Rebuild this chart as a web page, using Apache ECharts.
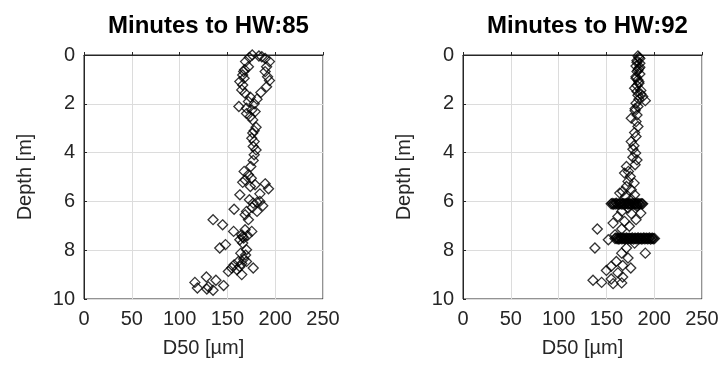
<!DOCTYPE html>
<html>
<head>
<meta charset="utf-8">
<script src="https://cdn.jsdelivr.net/npm/echarts@6/dist/echarts.min.js"></script>
<style>html,body{margin:0;padding:0;background:#fff}#c{width:725px;height:372px}</style>
</head>
<body>
<div id="c"></div>
<script>
const titles = ["Minutes to HW:85", "Minutes to HW:92"];
const xTicks = [0, 50, 100, 150, 200, 250];
const yTicks = [0, 2, 4, 6, 8, 10];

const d50_85 = [176,173,169,172,167,166,167.5,163,166,165,168.5,186,189.5,194,191,189.5,192,194,191,185,181,174,172,162,170,175.5,179,174,176.5,180,176.5,175.5,178,177,180,178,177,174.5,167.5,172,168.5,166,174,179,189.5,193,184,163,173,177,181,187,170,181,157,168.5,172,135,145,156.5,168.5,165,167,175.5,163,166,170,142,148,164,167,161.5,157,154.5,151,165,177,170,128,116,138,146,118.6,128.5,135,130,
178,183,170,168,184,176,178,175,171,166,169,165,163,160];
const depth85 = [0,0.1,0.27,0.48,0.68,0.82,0.95,1.09,1.23,1.43,1.57,0.07,0.14,0.27,0.48,0.68,0.89,1.05,1.3,1.54,1.81,1.73,1.91,2.11,2.18,2.25,2.32,2.52,2.66,2.96,3.2,3.41,3.55,3.75,3.89,4.09,4.32,4.57,4.77,4.91,5.12,5.22,5.39,5.32,5.28,5.48,5.69,5.73,5.93,6.07,6.04,6.18,6.41,6.41,6.32,6.55,6.75,6.75,6.96,7.23,7.16,7.37,7.5,7.23,7.57,7.71,7.98,7.91,7.77,8.12,8.36,8.46,8.6,8.73,8.87,9.0,8.73,8.46,9.1,9.32,9.23,9.45,9.55,9.59,9.64,9.5,
2.0,0.04,2.4,0.6,6.0,6.25,3.1,5.05,7.4,7.45,8.2,8.55,8.68,8.8];

const d50_92 = [183,185,182,185,181,184,182,185,181,183,184,179.5,182,186,188,184,190.7,181,183,180,176,182,181,183,179.5,181,176,178.8,177.7,180.6,177.7,182,180,171,173,169,175,172.6,179,171,167,176,179.5,164,170,176,
155,156.1,157,157.9,159.1,160.2,161,162.1,163.3,164.2,165,166.1,167.2,168.3,169.1,170,171.2,172.3,173.1,174.2,175,176.1,177.2,178.4,179.1,180.2,181.3,182.1,183,184.2,185.1,186.3,187.2,188,
182,186,172.6,166,176,162,157,181,169,174,140.5,166,159,152,
159,160.1,161.2,162.3,163.1,164.2,165.3,166.1,167.2,168.4,169.1,170.3,171.2,172.1,173.3,174.2,175.1,176.3,177.2,178.1,179.3,180.2,181.1,182.3,183.2,184.1,185.3,186.2,187.1,188.3,189.2,190.1,191.3,192.2,193.1,194.3,195.2,196.1,197.3,198.2,199.1,200.3,
179.5,138,171,190.7,166,172.6,160.4,155,167,175.5,150,162,167,155,136,145,157,166,
184,182,185,183,181,184,182,186,183,180];
const depth92 = [0.04,0.14,0.23,0.34,0.45,0.55,0.68,0.78,0.89,1.02,1.16,1.36,1.5,1.6,1.7,1.81,1.87,1.98,2.11,2.28,2.59,2.46,2.73,2.93,3.18,3.34,3.55,3.72,3.86,4.02,4.19,4.3,4.5,4.57,4.77,4.84,4.98,5.18,5.25,5.39,5.59,5.52,5.73,5.66,5.8,5.91,
6.1,6.08,6.12,6.09,6.11,6.07,6.1,6.12,6.09,6.1,6.08,6.11,6.1,6.09,6.12,6.1,6.08,6.11,6.1,6.09,6.1,6.12,6.08,6.1,6.11,6.09,6.1,6.12,6.08,6.1,6.11,6.09,6.1,6.1,
6.2,6.48,6.27,6.41,6.5,6.62,6.89,6.75,6.82,7.02,7.13,7.13,7.37,7.57,
7.52,7.5,7.53,7.51,7.54,7.52,7.5,7.53,7.52,7.51,7.54,7.52,7.5,7.53,7.52,7.51,7.53,7.52,7.5,7.54,7.52,7.51,7.53,7.52,7.5,7.53,7.52,7.51,7.54,7.52,7.5,7.53,7.52,7.51,7.53,7.52,7.5,7.54,7.52,7.51,7.53,7.52,
7.71,7.91,7.91,8.12,8.12,8.32,8.46,8.66,8.63,8.73,8.83,8.93,9.1,9.18,9.23,9.32,9.37,9.34,
0.1,0.3,0.5,0.62,0.95,1.1,1.25,1.45,1.65,2.2];

const panels = [
  {x: d50_85, y: depth85, left: 84},
  {x: d50_92, y: depth92, left: 463}
];

const FONT = "Liberation Sans, Arial, Helvetica, sans-serif";
const dark = '#262626';

const option = {
  animation: false,
  backgroundColor: '#fff',
  title: panels.map((p, i) => ({
    text: titles[i],
    left: p.left + 119.5,
    textAlign: 'center',
    top: 9,
    textStyle: {fontFamily: FONT, fontSize: 24, fontWeight: 'bold', color: '#000'}
  })),
  grid: panels.map(p => ({
    left: p.left, top: 55, width: 239, height: 244,
    show: true, borderColor: dark, borderWidth: 1, backgroundColor: '#fff'
  })),
  xAxis: panels.map((p, i) => ({
    gridIndex: i, type: 'value', min: xTicks[0], max: xTicks[xTicks.length - 1], interval: 50,
    name: 'D50 [µm]', nameLocation: 'middle', nameGap: 39,
    nameTextStyle: {fontFamily: FONT, fontSize: 20, color: dark},
    axisLine: {show: true, lineStyle: {color: dark}},
    axisTick: {show: true, inside: true, length: 3, lineStyle: {color: dark}},
    axisLabel: {fontFamily: FONT, fontSize: 20, color: dark, margin: 10},
    splitLine: {show: true, lineStyle: {color: '#dcdcdc', width: 1}}
  })),
  yAxis: panels.map((p, i) => ({
    gridIndex: i, type: 'value', min: yTicks[0], max: yTicks[yTicks.length - 1], interval: 2, inverse: true,
    name: 'Depth [m]', nameLocation: 'middle', nameGap: 49,
    nameTextStyle: {fontFamily: FONT, fontSize: 20, color: dark},
    axisLine: {show: true, lineStyle: {color: dark}},
    axisTick: {show: true, inside: true, length: 3, lineStyle: {color: dark}},
    axisLabel: {fontFamily: FONT, fontSize: 20, color: dark, margin: 9},
    splitLine: {show: true, lineStyle: {color: '#dcdcdc', width: 1}}
  })),
  series: panels.map((p, i) => ({
    type: 'scatter', xAxisIndex: i, yAxisIndex: i,
    symbol: 'diamond', symbolSize: 10,
    itemStyle: {color: 'rgba(0,0,0,0)', borderColor: '#000', borderWidth: 1.3},
    data: p.x.map((v, k) => [v, p.y[k]])
  }))
};

echarts.init(document.getElementById('c'), null, {renderer: 'canvas'}).setOption(option);
</script>
</body>
</html>
